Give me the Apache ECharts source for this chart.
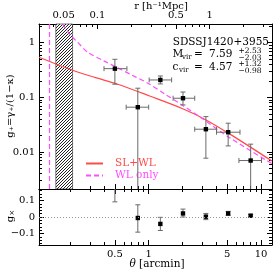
<!DOCTYPE html>
<html><head><meta charset="utf-8">
<script src="https://cdn.jsdelivr.net/npm/echarts@6/dist/echarts.min.js"></script>
<style>html,body{margin:0;padding:0;background:#fff}#c{width:274px;height:272px}</style>
</head><body><div id="c"></div>
<script>
// ---- data ----
const thetaPts   = [0.50, 0.80, 1.27, 2.02, 3.23, 5.10, 8.09];
const thetaLo    = [0.40, 0.63, 1.01, 1.65, 2.57, 4.02, 6.36];
const thetaHi    = [0.64, 1.00, 1.60, 2.57, 4.02, 6.50, 10.1];
const gPlus      = [0.335, 0.066, 0.208, 0.0963, 0.0261, 0.023, 0.00697];
const gPlusLo    = [0.174, 0.0008, 0.176, 0.0726, 0.0077, 0.0129, 0.0008];
const gPlusHi    = [0.497, 0.147, 0.246, 0.125, 0.0444, 0.0336, 0.0139];
const gCross     = [0.25, -0.006, -0.042, 0.0216, 0.002, 0.0216, 0.008];
const gCrossLo   = [0.092, -0.092, -0.082, 0.0, -0.016, 0.010, 0.0];
const gCrossHi   = [0.40, 0.074, -0.002, 0.048, 0.0216, 0.034, 0.016];
const thetaSLWL  = [0.1055, 0.21, 0.33, 0.53, 1.02, 2.01, 3.21, 5.7, 12.53];
const gSLWL      = [0.541, 0.313, 0.232, 0.174, 0.106, 0.062, 0.039, 0.0193, 0.0068];
const thetaWL    = [0.171, 0.202, 0.232, 0.285, 0.402, 0.511, 0.70, 0.986, 1.4, 1.96, 2.85, 5.29, 12.53];
const gWL        = [2.2, 1.366, 1.03, 0.676, 0.46, 0.36, 0.259, 0.181, 0.114, 0.0735, 0.0438, 0.0181, 0.0061];
const hatchRange = [0.149, 0.21];
const wlInner    = 0.134;
const xMajor  = [0.5, 1, 5, 10];
const xMinor  = [0.2, 0.3, 0.4, 0.6, 0.7, 0.8, 0.9, 2, 3, 4, 6, 7, 8, 9];
const rMajor  = [0.05, 0.1, 0.5, 1];
const rMinor  = [0.04, 0.06, 0.07, 0.08, 0.09, 0.2, 0.3, 0.4, 0.6, 0.7, 0.8, 0.9, 2, 3];
const gMajor  = [0.01, 0.1, 1];
const gMinor  = [0.003, 0.004, 0.005, 0.006, 0.007, 0.008, 0.009, 0.02, 0.03, 0.04, 0.05, 0.06, 0.07, 0.08, 0.09, 0.2, 0.3, 0.4, 0.5, 0.6, 0.7, 0.8, 0.9, 2];
const gxMajor = [-0.1, 0, 0.1];
const gxMinor = [-0.16, -0.14, -0.12, -0.08, -0.06, -0.04, -0.02, 0.02, 0.04, 0.06, 0.08, 0.12, 0.14, 0.16];

const TH_MIN = 0.1055, TH_MAX = 12.53, R_PER_THETA = 0.286;
const G_MIN = 0.0021, G_MAX = 2.2, GX_MIN = -0.17, GX_MAX = 0.17;
const FONT = 'DejaVu Serif';
const RED = '#ff4a4a', MAG = '#ff4dff';

function fmt(v){ return String(+(+v).toPrecision(6)).replace('-', '\u2212'); }
function axis(type, gridIndex, position, min, max, values, len, showLabel, showLine) {
  const a = {
    type, gridIndex, position, min, max,
    axisLine: {show: showLine, onZero: false, lineStyle: {color: '#000', width: 1}},
    axisTick: {show: true, inside: true, length: len, customValues: values, lineStyle: {color: '#000', width: 1}},
    axisLabel: {show: showLabel, customValues: values, formatter: fmt, color: '#000',
      fontFamily: FONT, fontSize: 10, margin: 4},
    splitLine: {show: false}, minorTick: {show: false}, minorSplitLine: {show: false}
  };
  if (type === 'log') a.logBase = 10;
  return a;
}

// hatch pattern
const pc = document.createElement('canvas');
pc.width = 3; pc.height = 3;
const pctx = pc.getContext('2d');
pctx.fillStyle = '#fff'; pctx.fillRect(0,0,3,3);
pctx.fillStyle = '#222';
for (let i = 0; i < 3; i++) pctx.fillRect(i, 2 - i, 1, 1);

function errRender(showX) {
  return function (params, api) {
    const x = api.value(0), y = api.value(1);
    const p = api.coord([x, y]);
    const lo = api.coord([x, api.value(4)]), hi = api.coord([x, api.value(5)]);
    const st = {stroke: '#6a6a6a', lineWidth: 1, fill: null};
    const c = [];
    c.push({type: 'line', shape: {x1: p[0], y1: lo[1], x2: p[0], y2: hi[1]}, style: st});
    c.push({type: 'line', shape: {x1: p[0]-2.5, y1: lo[1], x2: p[0]+2.5, y2: lo[1]}, style: st});
    c.push({type: 'line', shape: {x1: p[0]-2.5, y1: hi[1], x2: p[0]+2.5, y2: hi[1]}, style: st});
    if (showX) {
      const l = api.coord([api.value(2), y]), r = api.coord([api.value(3), y]);
      c.push({type: 'line', shape: {x1: l[0], y1: p[1], x2: r[0], y2: p[1]}, style: st});
      c.push({type: 'line', shape: {x1: l[0], y1: p[1]-2.5, x2: l[0], y2: p[1]+2.5}, style: st});
      c.push({type: 'line', shape: {x1: r[0], y1: p[1]-2.5, x2: r[0], y2: p[1]+2.5}, style: st});
    }
    c.push({type: 'rect', shape: {x: p[0]-2.2, y: p[1]-2.2, width: 4.4, height: 4.4}, style: {fill: '#000'}});
    return {type: 'group', children: c};
  };
}

const topData = thetaPts.map((t, i) => [t, gPlus[i], thetaLo[i], thetaHi[i], gPlusLo[i], gPlusHi[i]]);
const botData = thetaPts.map((t, i) => [t, gCross[i], thetaLo[i], thetaHi[i], gCrossLo[i], gCrossHi[i]]);

const chart = echarts.init(document.getElementById('c'), null, {renderer: 'canvas'});
chart.setOption({
  animation: false,
  backgroundColor: '#fff',
  grid: [
    {left: 39, top: 24, width: 233, height: 165},
    {left: 39, top: 189, width: 233, height: 56}
  ],
  xAxis: [
    axis('log', 0, 'bottom', TH_MIN, TH_MAX, xMajor, 5, false, true),
    axis('log', 0, 'bottom', TH_MIN, TH_MAX, xMinor, 3, false, false),
    axis('log', 0, 'top', TH_MIN * R_PER_THETA, TH_MAX * R_PER_THETA, rMajor, 5, true, true),
    axis('log', 0, 'top', TH_MIN * R_PER_THETA, TH_MAX * R_PER_THETA, rMinor, 3, false, false),
    axis('log', 1, 'bottom', TH_MIN, TH_MAX, xMajor, 5, true, true),
    axis('log', 1, 'bottom', TH_MIN, TH_MAX, xMinor, 3, false, false),
    axis('log', 1, 'top', TH_MIN, TH_MAX, xMajor, 5, false, true),
    axis('log', 1, 'top', TH_MIN, TH_MAX, xMinor, 3, false, false)
  ],
  yAxis: [
    axis('log', 0, 'left', G_MIN, G_MAX, gMajor, 5, true, true),
    axis('log', 0, 'left', G_MIN, G_MAX, gMinor, 3, false, false),
    axis('log', 0, 'right', G_MIN, G_MAX, gMajor, 5, false, true),
    axis('log', 0, 'right', G_MIN, G_MAX, gMinor, 3, false, false),
    axis('value', 1, 'left', GX_MIN, GX_MAX, gxMajor, 5, true, true),
    axis('value', 1, 'left', GX_MIN, GX_MAX, gxMinor, 3, false, false),
    axis('value', 1, 'right', GX_MIN, GX_MAX, gxMajor, 5, false, true),
    axis('value', 1, 'right', GX_MIN, GX_MAX, gxMinor, 3, false, false)
  ],
  legend: {
    orient: 'vertical', left: 80, top: 153, itemWidth: 17, itemHeight: 8, itemGap: 1,
    selectedMode: false,
    itemStyle: {color: 'rgba(0,0,0,0)', borderWidth: 0, opacity: 0},
    formatter: '{p|{name}}',
    textStyle: {fontFamily: FONT, fontSize: 10.5, lineHeight: 11,
      rich: {p: {padding: [0, 0, 0, 7], fontFamily: FONT, fontSize: 10.5, lineHeight: 11}}},
    data: [
      {name: 'SL+WL', textStyle: {color: RED}},
      {name: 'WL only', textStyle: {color: MAG}}
    ]
  },
  series: [
    {
      type: 'line', name: 'SL+WL', xAxisIndex: 0, yAxisIndex: 0, symbol: 'none', smooth: 0.3,
      lineStyle: {color: RED, width: 1.2}, itemStyle: {color: RED}, clip: true, z: 3,
      data: thetaSLWL.map((t, i) => [t, gSLWL[i]]),
      markArea: {silent: true, itemStyle: {color: {image: pc, repeat: 'repeat'}, borderColor: '#222', borderWidth: 0.6},
        data: [[{xAxis: hatchRange[0]}, {xAxis: hatchRange[1]}]]}
    },
    {
      type: 'line', name: 'WL only', xAxisIndex: 0, yAxisIndex: 0, symbol: 'none', smooth: 0.3,
      lineStyle: {color: MAG, width: 1.2, type: [5, 3]}, itemStyle: {color: MAG}, clip: true, z: 3,
      data: thetaWL.map((t, i) => [t, gWL[i]]),
      markLine: {silent: true, symbol: 'none', label: {show: false},
        lineStyle: {color: MAG, width: 1.2, type: [5, 3]}, data: [{xAxis: wlInner}]}
    },
    {
      type: 'custom', xAxisIndex: 0, yAxisIndex: 0, clip: true, z: 4,
      renderItem: errRender(true), encode: {x: 0, y: 1}, data: topData
    },
    {
      type: 'custom', xAxisIndex: 4, yAxisIndex: 4, clip: true, z: 4,
      renderItem: errRender(false), encode: {x: 0, y: 1}, data: botData,
      markLine: {silent: true, symbol: 'none', label: {show: false},
        lineStyle: {color: '#999', width: 1, type: [1, 2]}, data: [{yAxis: 0}]}
    }
  ],
  graphic: [
    {type: 'text', x: 161, y: 6, style: {text: 'r [h\u207B\u00B9Mpc]', font: '10px "DejaVu Serif"', fill: '#000', align: 'center', verticalAlign: 'middle'}},
    {type: 'text', x: 157, y: 264, style: {text: '{i|\u03B8} [arcmin]', font: '10.5px "DejaVu Serif"', fill: '#000', align: 'center', verticalAlign: 'middle',
      rich: {i: {fontStyle: 'italic', fontFamily: FONT, fontSize: 10.5}}}},
    {type: 'text', x: 10, y: 106, rotation: Math.PI / 2, style: {text: 'g\u208A=\u03B3\u208A/(1\u2212\u03BA)', font: '10px "DejaVu Serif"', fill: '#000', align: 'center', verticalAlign: 'middle'}},
    {type: 'text', x: 10, y: 216, rotation: Math.PI / 2, style: {text: '{g|g}{s|\u00D7}', fill: '#000', align: 'center', verticalAlign: 'middle',
      rich: {g: {fontFamily: FONT, fontSize: 10, lineHeight: 12}, s: {fontFamily: FONT, fontSize: 7, verticalAlign: 'bottom', lineHeight: 8}}}},
    {type: 'text', x: 269, y: 42.3, style: {text: 'SDSSJ1420+3955', font: '10.5px "DejaVu Serif"', fill: '#000', align: 'right', verticalAlign: 'middle'}},
    {type: 'text', x: 172.5, y: 54.5, style: {text: 'M', font: '10.5px "DejaVu Serif"', fill: '#000', align: 'left', verticalAlign: 'middle'}},
    {type: 'text', x: 182, y: 57.5, style: {text: 'vir', font: '7px "DejaVu Serif"', fill: '#000', align: 'left', verticalAlign: 'middle'}},
    {type: 'text', x: 194, y: 54.5, style: {text: '=', font: '10.5px "DejaVu Serif"', fill: '#000', align: 'left', verticalAlign: 'middle'}},
    {type: 'text', x: 209, y: 54.5, style: {text: '7.59', font: '10.5px "DejaVu Serif"', fill: '#000', align: 'left', verticalAlign: 'middle'}},
    {type: 'text', x: 238.5, y: 51, style: {text: '+2.53', font: '7.5px "DejaVu Serif"', fill: '#000', align: 'left', verticalAlign: 'middle'}},
    {type: 'text', x: 238.5, y: 58, style: {text: '\u22122.03', font: '7.5px "DejaVu Serif"', fill: '#000', align: 'left', verticalAlign: 'middle'}},
    {type: 'text', x: 172.5, y: 67.5, style: {text: 'c', font: '10.5px "DejaVu Serif"', fill: '#000', align: 'left', verticalAlign: 'middle'}},
    {type: 'text', x: 179, y: 70.5, style: {text: 'vir', font: '7px "DejaVu Serif"', fill: '#000', align: 'left', verticalAlign: 'middle'}},
    {type: 'text', x: 194, y: 67.5, style: {text: '=', font: '10.5px "DejaVu Serif"', fill: '#000', align: 'left', verticalAlign: 'middle'}},
    {type: 'text', x: 209, y: 67.5, style: {text: '4.57', font: '10.5px "DejaVu Serif"', fill: '#000', align: 'left', verticalAlign: 'middle'}},
    {type: 'text', x: 238.5, y: 64.5, style: {text: '+1.32', font: '7.5px "DejaVu Serif"', fill: '#000', align: 'left', verticalAlign: 'middle'}},
    {type: 'text', x: 238.5, y: 71.5, style: {text: '\u22120.98', font: '7.5px "DejaVu Serif"', fill: '#000', align: 'left', verticalAlign: 'middle'}}
  ]
});
</script></body></html>
